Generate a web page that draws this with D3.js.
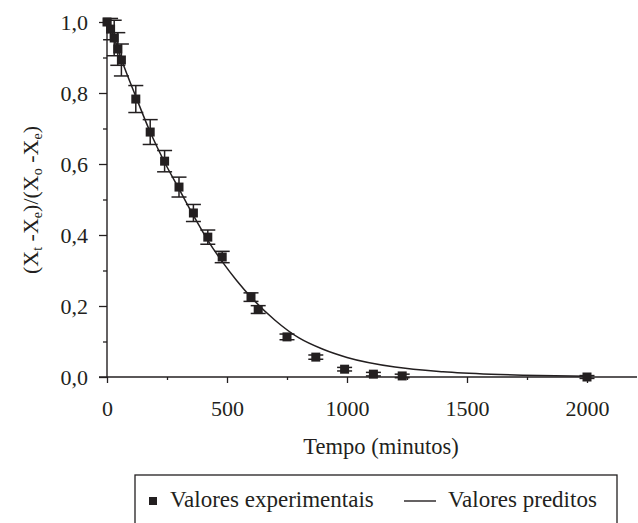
<!DOCTYPE html>
<html>
<head>
<meta charset="utf-8">
<script src="https://cdn.jsdelivr.net/npm/d3@7"></script>
<style>
  body { margin: 0; background: #fff; }
  text { font-family: "Liberation Serif", "DejaVu Serif", serif; fill: #231f20; }
</style>
</head>
<body>
<div id="chart"></div>
<script>
// experimental points
let times = [0, 15, 30, 45, 60, 120, 180, 240, 300, 360, 420, 480, 600, 630, 750, 870, 990, 1110, 1230, 2000];
let values = [1.0, 0.98, 0.955, 0.924, 0.893, 0.783, 0.69, 0.608, 0.535, 0.462, 0.394, 0.338, 0.225, 0.19, 0.113, 0.056, 0.022, 0.008, 0.003, 0.0];
let errors = [0, 0.03, 0.05, 0.046, 0.045, 0.038, 0.035, 0.03, 0.028, 0.024, 0.02, 0.016, 0.012, 0.011, 0.008, 0.006, 0.005, 0.005, 0.005, 0.004];

// predicted curve
let curveTimes = [0, 30, 60, 120, 180, 240, 300, 360, 420, 480, 540, 600, 700, 800, 900, 1000, 1200, 1400, 1600, 1800, 2000];
let curveValues = [1.0, 0.955, 0.895, 0.79, 0.69, 0.605, 0.53, 0.455, 0.385, 0.325, 0.272, 0.225, 0.16, 0.11, 0.078, 0.055, 0.028, 0.015, 0.008, 0.004, 0.002];

let xMajor = [0, 500, 1000, 1500, 2000];
let xMinor = [250, 750, 1250, 1750];
let yMajor = [0, 0.2, 0.4, 0.6, 0.8, 1.0];
let yMinor = [0.1, 0.3, 0.5, 0.7, 0.9];

let legendLabels = ["Valores experimentais", "Valores preditos"];

const W = 638, H = 523;
const ink = "#231f20";

let svg = d3.select("#chart").append("svg")
    .attr("width", W)
    .attr("height", H);

let x = d3.scaleLinear().domain([0, 2000]).range([107, 587]);
let y = d3.scaleLinear().domain([0, 1]).range([377, 22]);

let locale = d3.formatLocale({ decimal: ",", thousands: ".", grouping: [3], currency: ["", ""] });
let fmtY = locale.format(".1f");

// axes
let gx = svg.append("g").attr("transform", "translate(0," + y(0) + ")")
    .call(d3.axisBottom(x).tickValues(xMajor).tickSize(6).tickPadding(17).tickFormat(d3.format("d")));
svg.append("g").attr("transform", "translate(0," + y(0) + ")")
    .call(d3.axisBottom(x).tickValues(xMinor).tickSize(3).tickFormat(""));
let gy = svg.append("g").attr("transform", "translate(" + x(0) + ",0)")
    .call(d3.axisLeft(y).tickValues(yMajor).tickSize(8).tickPadding(11).tickFormat(fmtY));
svg.append("g").attr("transform", "translate(" + x(0) + ",0)")
    .call(d3.axisLeft(y).tickValues(yMinor).tickSize(4).tickFormat(""));

svg.selectAll(".domain").remove();
svg.selectAll(".tick line").attr("stroke", ink).attr("stroke-width", 1.3);
svg.selectAll(".tick text").attr("font-size", 22).attr("font-family", "Liberation Serif").attr("fill", ink);

svg.append("line")
    .attr("x1", 99).attr("x2", 637)
    .attr("y1", y(0)).attr("y2", y(0))
    .attr("stroke", ink).attr("stroke-width", 1.4);
svg.append("line")
    .attr("x1", x(0)).attr("x2", x(0))
    .attr("y1", y(1)).attr("y2", y(0))
    .attr("stroke", ink).attr("stroke-width", 1.4);

// predicted line
let curveData = curveTimes.map((t, i) => ({ t: t, v: curveValues[i] }));
svg.append("path")
    .datum(curveData)
    .attr("fill", "none")
    .attr("stroke", ink)
    .attr("stroke-width", 1.5)
    .attr("d", d3.line().x(d => x(d.t)).y(d => y(d.v)).curve(d3.curveMonotoneX));

// experimental points with error bars
let pts = times.map((t, i) => ({ t: t, v: values[i], e: errors[i] }));
let capW = 7.5;
let eb = svg.append("g").attr("stroke", ink).attr("stroke-width", 1.5);
pts.forEach(d => {
    if (d.e <= 0) return;
    let cx = x(d.t);
    eb.append("line").attr("x1", cx).attr("x2", cx).attr("y1", y(d.v + d.e)).attr("y2", y(d.v - d.e));
    eb.append("line").attr("x1", cx - capW).attr("x2", cx + capW).attr("y1", y(d.v + d.e)).attr("y2", y(d.v + d.e));
    eb.append("line").attr("x1", cx - capW).attr("x2", cx + capW).attr("y1", y(d.v - d.e)).attr("y2", y(d.v - d.e));
});

let sq = 9;
svg.append("g").selectAll("rect")
    .data(pts)
    .join("rect")
    .attr("x", d => x(d.t) - sq / 2)
    .attr("y", d => y(d.v) - sq / 2)
    .attr("width", sq)
    .attr("height", sq)
    .attr("fill", ink);

// axis titles
svg.append("text")
    .attr("x", 381).attr("y", 454)
    .attr("text-anchor", "middle")
    .attr("font-size", 22.5)
    .text("Tempo (minutos)");

let yt = svg.append("text")
    .attr("transform", "translate(38,200) rotate(-90)")
    .attr("text-anchor", "middle")
    .attr("font-size", 22);
let parts = [["(X", 0], ["t", 1], [" -X", 0], ["e", 1], [")/(X", 0], ["o", 1], [" -X", 0], ["e", 1], [")", 0]];
parts.forEach(p => {
    yt.append("tspan")
        .attr("font-size", p[1] ? 14 : 22)
        .attr("baseline-shift", p[1] ? "-30%" : null)
        .text(p[0]);
});

// legend
let lg = svg.append("g");
lg.append("rect")
    .attr("x", 135).attr("y", 475)
    .attr("width", 482).attr("height", 60)
    .attr("fill", "none")
    .attr("stroke", ink)
    .attr("stroke-width", 1.3);
lg.append("rect")
    .attr("x", 149).attr("y", 497)
    .attr("width", 8).attr("height", 8)
    .attr("fill", ink);
lg.append("text")
    .attr("x", 170).attr("y", 507)
    .attr("font-size", 23)
    .text(legendLabels[0]);
lg.append("line")
    .attr("x1", 404).attr("x2", 436)
    .attr("y1", 501).attr("y2", 501)
    .attr("stroke", ink).attr("stroke-width", 1.4);
lg.append("text")
    .attr("x", 448).attr("y", 507)
    .attr("font-size", 23)
    .text(legendLabels[1]);
</script>
</body>
</html>
